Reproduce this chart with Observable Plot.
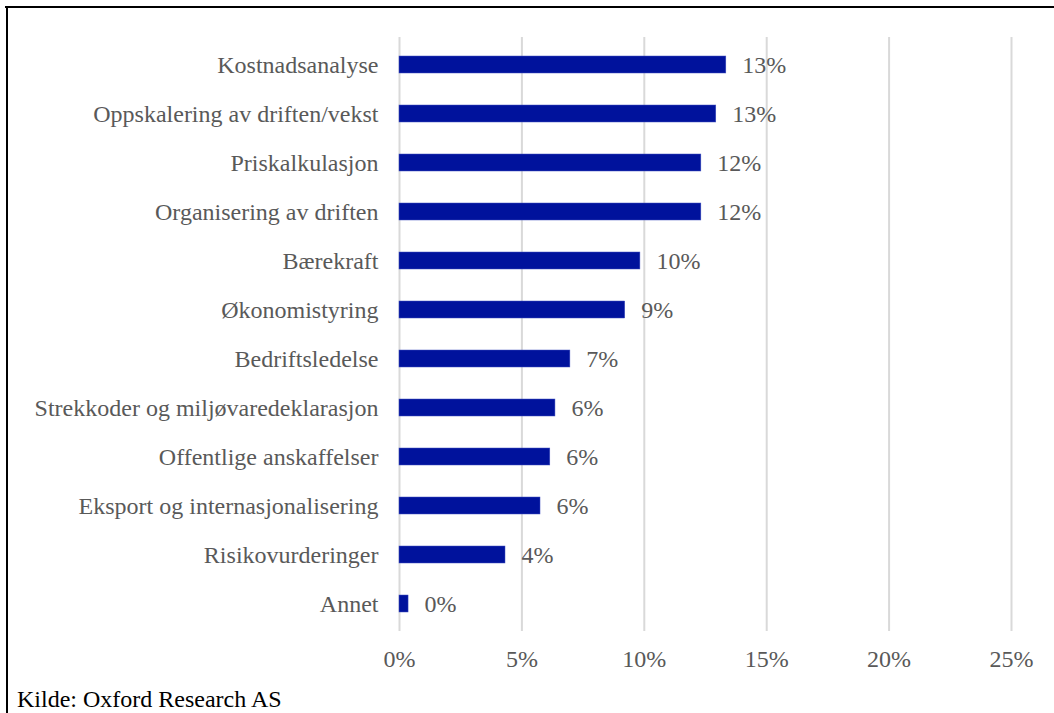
<!DOCTYPE html>
<html>
<head>
<meta charset="utf-8">
<script src="https://cdn.jsdelivr.net/npm/d3@7"></script>
<script src="https://cdn.jsdelivr.net/npm/@observablehq/plot@0.6"></script>
<style>
  html, body { margin: 0; padding: 0; background: #fff; }
  #wrap { position: relative; width: 1054px; height: 713px; overflow: hidden; font-family: "Liberation Serif", serif; }
  #frameTop { position: absolute; left: 5px; top: 6px; width: 1049px; height: 2px; background: #000; }
  #frameLeft { position: absolute; left: 6px; top: 6px; width: 2px; height: 707px; background: #000; }
  #chart { position: absolute; left: 0; top: 0; }
  #caption { position: absolute; left: 17px; top: 687px; font-family: "Liberation Serif", serif; font-size: 24px; line-height: 24px; color: #000; white-space: nowrap; }
</style>
</head>
<body>
<div id="wrap">
  <div id="chart"></div>
  <div id="frameTop"></div>
  <div id="frameLeft"></div>
  <div id="caption">Kilde: Oxford Research AS</div>
</div>
<script>
const categories = [
  "Kostnadsanalyse",
  "Oppskalering av driften/vekst",
  "Priskalkulasjon",
  "Organisering av driften",
  "Bærekraft",
  "Økonomistyring",
  "Bedriftsledelse",
  "Strekkoder og miljøvaredeklarasjon",
  "Offentlige anskaffelser",
  "Eksport og internasjonalisering",
  "Risikovurderinger",
  "Annet"
];
const values = [0.1335, 0.1294, 0.1233, 0.1233, 0.0984, 0.0922, 0.0698, 0.0637, 0.0616, 0.0576, 0.0433, 0.0037];
const valueLabels = ["13%", "13%", "12%", "12%", "10%", "9%", "7%", "6%", "6%", "6%", "4%", "0%"];
const xTicks = [0, 0.05, 0.10, 0.15, 0.20, 0.25];
const xTickLabels = ["0%", "5%", "10%", "15%", "20%", "25%"];

const data = categories.map((c, i) => ({category: c, value: values[i], label: valueLabels[i]}));

const FONT = "Liberation Serif";
const plot = Plot.plot({
  width: 1054,
  height: 680,
  marginTop: 37,
  marginBottom: 49,
  marginLeft: 399,
  marginRight: 43,
  style: {fontFamily: FONT, fontSize: "24px", color: "#595959", background: "transparent"},
  x: {domain: [0, 0.25], ticks: xTicks, tickFormat: (d) => xTickLabels[xTicks.indexOf(d)], tickSize: 0, tickPadding: 18, label: null},
  y: {domain: categories, paddingInner: 0.65, paddingOuter: 0.325, tickSize: 0, tickPadding: 21, label: null},
  marks: [
    Plot.gridX(xTicks, {stroke: "#d9d9d9", strokeOpacity: 1, strokeWidth: 2}),
    Plot.barX(data, {x: "value", y: "category", fill: "#00129c", stroke: "#4050c0", strokeWidth: 0.5}),
    Plot.text(data, {x: "value", y: "category", text: "label", textAnchor: "start", dx: 16, fill: "#595959", fontSize: 24, fontFamily: FONT})
  ]
});
plot.setAttribute("font-family", FONT);
plot.querySelectorAll("g, text").forEach(el => {
  el.setAttribute("font-family", FONT);
  el.style.fontFamily = FONT;
});
document.getElementById("chart").appendChild(plot);
</script>
</body>
</html>
